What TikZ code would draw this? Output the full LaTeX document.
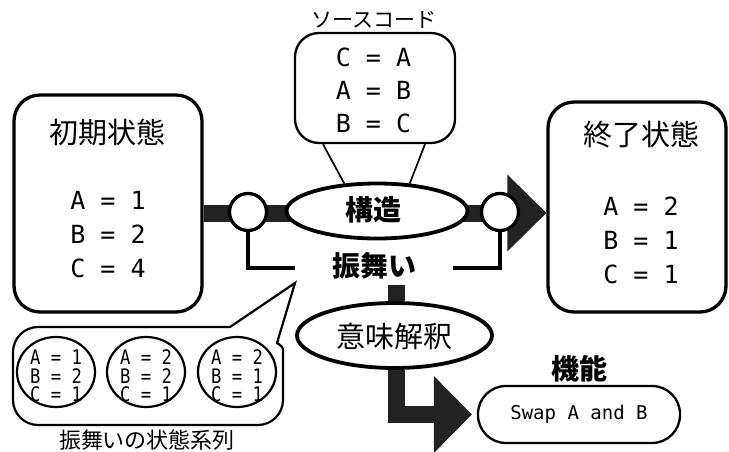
\documentclass[tikz,border=0pt]{standalone}
\usepackage{fontspec}
\newfontfamily\jp{Noto Sans CJK JP}
\newfontfamily\mono{DejaVu Sans Mono}
\usetikzlibrary{shapes.geometric,calc}
\definecolor{barc}{HTML}{222222}
\begin{document}
\begin{tikzpicture}[x=1pt,y=-1pt,
  statebox/.style={draw, line width=3.3pt, rounded corners=26pt, fill=white, inner sep=0pt},
  srcbox/.style={draw, line width=2.3pt, rounded corners=24pt, fill=white, inner sep=0pt},
  oval/.style={draw, ellipse, line width=3.8pt, fill=white, inner sep=0pt},
  joint/.style={draw, circle, line width=3.3pt, fill=white, minimum size=37pt, inner sep=0pt},
  seqcirc/.style={draw, ellipse, line width=2.2pt, minimum width=78pt, minimum height=70pt, inner sep=0pt},
  title/.style={font=\jp\fontsize{29}{34}\selectfont, inner sep=0pt},
  boldlabel/.style={font=\jp\bfseries\fontsize{28}{34}\selectfont, inner sep=0pt},
  smalllabel/.style={font=\jp\fontsize{21}{26}\selectfont, inner sep=0pt},
  vals/.style={font=\mono\fontsize{25}{34}\selectfont, align=center, inner sep=0pt},
  seqvals/.style={font=\mono\fontsize{20}{18.5}\selectfont, align=center, inner sep=0pt, xscale=0.86},
  bar/.style={draw=barc, line width=17pt},
  headfill/.style={fill=barc},
  thinline/.style={draw, line width=3.3pt},
  trap/.style={draw, line width=1.7pt}
]
\useasboundingbox (0,0) rectangle (729,452);

% state boxes
\node[statebox, minimum width=188pt, minimum height=217pt] (init) at (108,203.5) {};
\node[title] (inittitle) at (107.5,132) {初期状態};
\node[vals] (initvals) at (108,235) {A = 1\\B = 2\\C = 4};

\node[statebox, minimum width=178pt, minimum height=210pt] (final) at (637,207) {};
\node[title] (finaltitle) at (641.5,134) {終了状態};
\node[vals] (finalvals) at (641,240) {A = 2\\B = 1\\C = 1};

% source code box
\node[smalllabel] (srclabel) at (374,20) {ソースコード};
\node[srcbox, minimum width=160pt, minimum height=110pt] (src) at (375,88) {};
\node[vals, font=\mono\fontsize{25}{33}\selectfont] (srcvals) at (373.5,90.5) {C = A\\A = B\\B = C};

% main thick bar with arrow head
\coordinate (tip) at (final.west |- 0,213);
\draw[bar] (init.east |- tip) -- ($(tip)+(-39,0)$);
\fill[headfill] (tip) -- ++(-39,-38.5) -- ++(0,77) -- cycle;

% joints and structure ellipse
\node[joint] (c1) at (248,212) {};
\node[joint] (c2) at (500,212) {};
\node[oval, minimum width=181pt, minimum height=55pt] (struct) at (377,211) {};
\node[boldlabel] (structlabel) at (373,209.5) {構造};

% trapezoid from source box to structure
\draw[trap] ($(src.south)+(-52,0)$) -- (struct.140);
\draw[trap] ($(src.south)+(50,0)$) -- (struct.40);

% behaviour bracket
\node[boldlabel] (behav) at (374,266) {振舞い};
\draw[thinline] (c1.south) -- (c1.south |- 0,268) coordinate (bl) -- ++(47,0);
\draw[thinline] (c2.south) -- (c2.south |- 0,268) coordinate (br) -- ++(-47,0);

% meaning ellipse
\node[oval, minimum width=195pt, minimum height=65pt] (mean) at (394.5,335.5) {};
\node[title] (meanlabel) at (394,336) {意味解釈};
\draw[bar] ($(mean.north)+(2,0)$) -- ++(0,-16);

% function
\node[boldlabel] (funclabel) at (579,369) {機能};
\node[draw, line width=2.3pt, rounded corners=28pt, minimum width=202pt, minimum height=57pt, fill=white,
      font=\mono\fontsize{19}{22}\selectfont] (swap) at (579,414.5) {Swap A and B};
\coordinate (tip2) at ($(swap.west)+(-5,0)$);
\draw[bar] ($(mean.south)+(2,0)$) |- ($(tip2)+(-38,0)$);
\fill[headfill] (tip2) -- ++(-38,-38.5) -- ++(0,77) -- cycle;

% behaviour state sequence callout
\draw[line width=2.2pt, fill=white] (230,327) -- (38,327)
  arc[start angle=270, end angle=180, radius=25] -- (13,400)
  arc[start angle=180, end angle=90, radius=25] -- (258,425)
  arc[start angle=90, end angle=0, radius=25] -- (283,353)
  .. controls (283,347) .. (277,343) -- (295,283) -- cycle;
\node[seqcirc] (s1) at (56,372) {};
\node[seqcirc] (s2) at (146,372) {};
\node[seqcirc] (s3) at (237,372) {};
\node[seqvals] (s1v) at (56,376) {A = 1\\B = 2\\C = 1};
\node[seqvals] (s2v) at (146,376) {A = 2\\B = 2\\C = 1};
\node[seqvals] (s3v) at (237,376) {A = 2\\B = 1\\C = 1};
\node[smalllabel, font=\jp\fontsize{22}{26}\selectfont] (seqlabel) at (147,440) {振舞いの状態系列};
\end{tikzpicture}
\end{document}
